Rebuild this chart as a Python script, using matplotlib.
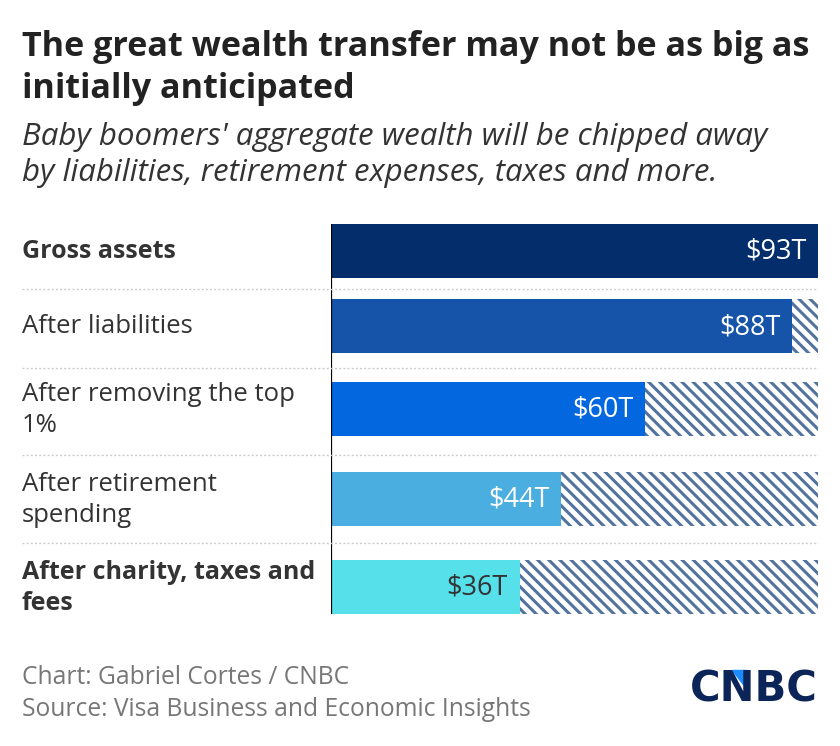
import matplotlib.pyplot as plt
from matplotlib.patches import Polygon

# data
categories = ["Gross assets", "After liabilities", "After removing the top\n1%",
              "After retirement\nspending", "After charity, taxes and\nfees"]
values = [93, 88, 60, 44, 36]
value_labels = ["$93T", "$88T", "$60T", "$44T", "$36T"]
total = 93

# styling / layout
colors = ["#032e6b", "#1554a8", "#0368e0", "#4aaee0", "#55e0ea"]
text_colors = ["white", "white", "white", "white", "#333333"]
bold_rows = [True, False, False, False, True]
row_centers = [250.5, 326, 409, 499, 587]  # pixel-like layout coordinates
separators = [289, 368, 455, 543]
bar_h = 54

plt.rcParams['font.family'] = ['Open Sans', 'DejaVu Sans']
plt.rcParams['hatch.color'] = '#52739e'
plt.rcParams['hatch.linewidth'] = 2.2

fig = plt.figure(figsize=(8.4, 7.46), dpi=100)
ax = fig.add_axes([331 / 840, 1 - 614 / 746, (818 - 331) / 840, (614 - 224) / 746])
ax.set_xlim(0, total)
ax.set_ylim(614, 224)
ax.axis("off")

for i, v in enumerate(values):
    y = row_centers[i]
    ax.barh(y, v, height=bar_h, color=colors[i], linewidth=0)
    if v < total:
        ax.barh(y, total - v, left=v, height=bar_h, color="white",
                hatch="\\\\\\", edgecolor="#52739e", linewidth=0)
    ax.text(v - 2.2, y + 1, value_labels[i], ha="right", va="center",
            color=text_colors[i], fontsize=19.5)
    fig.text(22 / 840, 1 - (y + 1) / 746, categories[i], ha="left", va="center",
             fontsize=18 if bold_rows[i] else 18.5, color="#333333", linespacing=1.35,
             fontweight="bold" if bold_rows[i] else "normal")

ax.axvline(0, color="black", linewidth=1.6, ymin=0, ymax=1)

for s in separators:
    fig.add_artist(plt.Line2D([22 / 840, 818 / 840], [1 - s / 746] * 2,
                              color="#cccccc", linewidth=1, linestyle=(0, (1.5, 1.5))))

fig.text(22 / 840, 1 - 68 / 746, "The great wealth transfer may not be as big as\ninitially anticipated",
         ha="left", va="center", fontsize=24.6, fontweight="bold", color="#222222", linespacing=1.3)
fig.text(22 / 840, 1 - 155 / 746,
         "Baby boomers' aggregate wealth will be chipped away\nby liabilities, retirement expenses, taxes and more.",
         ha="left", va="center", fontsize=22.5, style="italic", color="#333333", linespacing=1.22)

fig.text(22 / 840, 1 - 678 / 746, "Chart: Gabriel Cortes / CNBC", ha="left", va="center",
         fontsize=17.7, color="#777777")
fig.text(22 / 840, 1 - 710 / 746, "Source: Visa Business and Economic Insights", ha="left",
         va="center", fontsize=17.7, color="#777777")

# CNBC logo
fig.text(818 / 840, 1 - 690 / 746, "CNBC", ha="right", va="center", fontsize=30,
         fontweight="black", color="#0b2559", family="DejaVu Sans")
fig.add_artist(Polygon([[732 / 840, 1 - 670 / 746], [746 / 840, 1 - 670 / 746],
                        [746 / 840, 1 - 688 / 746]], closed=True,
                       transform=fig.transFigure, color="#1a8cff"))

fig.savefig("out.png", dpi=100)
